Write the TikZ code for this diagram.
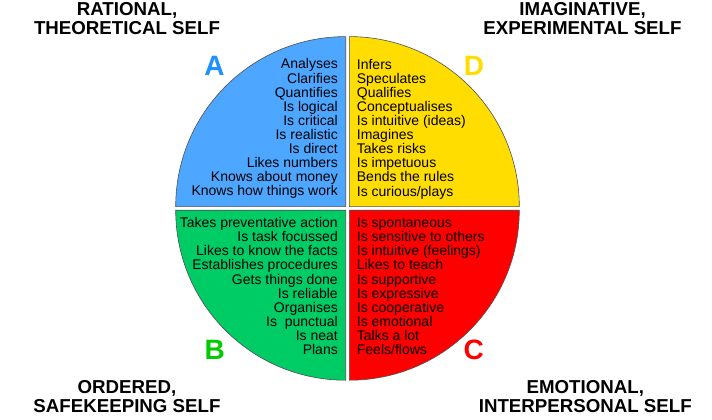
\documentclass[tikz,border=0pt]{standalone}
\usepackage{fontspec}
\setmainfont{Liberation Sans}
\definecolor{quadA}{RGB}{77,166,255}
\definecolor{quadD}{RGB}{255,221,0}
\definecolor{quadB}{RGB}{0,204,102}
\definecolor{quadC}{RGB}{255,0,0}
\definecolor{letA}{RGB}{30,144,255}
\definecolor{letD}{RGB}{255,221,0}
\definecolor{letB}{RGB}{0,204,0}
\definecolor{letC}{RGB}{255,0,0}
\definecolor{edgegray}{RGB}{80,80,80}
\begin{document}
\begin{tikzpicture}[x=1pt,y=-1pt,
  quad/.style={draw=edgegray,line width=0.6pt},
  items/.style={inner sep=0pt,font=\fontsize{14}{14.08}\selectfont},
  ttl/.style={inner sep=0pt,align=center,font=\fontsize{18.7}{19.3}\selectfont\bfseries},
  letter/.style={inner sep=0pt,anchor=base,font=\fontsize{28}{28}\selectfont\bfseries}]
\useasboundingbox[fill=white] (0,0) rectangle (712,420);
% quadrants
\coordinate (cA) at (345.7,206.6);
\coordinate (cD) at (349.3,206.6);
\coordinate (cC) at (349.3,210.2);
\coordinate (cB) at (345.7,210.2);
\path[quad,fill=quadA] (cA) -- ++(-170,0) arc[start angle=180,end angle=270,radius=170] -- cycle;
\path[quad,fill=quadD] (cD) -- ++(0,-170) arc[start angle=270,end angle=360,radius=170] -- cycle;
\path[quad,fill=quadC] (cC) -- ++(170,0) arc[start angle=0,end angle=90,radius=170] -- cycle;
\path[quad,fill=quadB] (cB) -- ++(0,170) arc[start angle=90,end angle=180,radius=170] -- cycle;
% item lists (base anchor = last line baseline)
\node[items,align=right,anchor=base east] (listA) at (338,195.7)
  {Analyses\\Clarifies\\Quantifies\\Is logical\\Is critical\\Is realistic\\Is direct\\Likes numbers\\Knows about money\\Knows how things work};
\node[items,align=left,anchor=base west] (listD) at (356.7,196)
  {Infers\\Speculates\\Qualifies\\Conceptualises\\Is intuitive (ideas)\\Imagines\\Takes risks\\Is impetuous\\Bends the rules\\Is curious/plays};
\node[items,align=right,anchor=base east] (listB) at (338,354.4)
  {Takes preventative action\\Is task focussed\\Likes to know the facts\\Establishes procedures\\Gets things done\\Is reliable\\Organises\\Is\ \ punctual\\Is neat\\Plans};
\node[items,align=left,anchor=base west] (listC) at (356.7,354.4)
  {Is spontaneous\\Is sensitive to others\\Is intuitive (feelings)\\Likes to teach\\Is supportive\\Is expressive\\Is cooperative\\Is emotional\\Talks a lot\\Feels/flows};
% letters
\node[letter,text=letA] (letterA) at (214.5,75) {A};
\node[letter,text=letD] (letterD) at (474,75) {D};
\node[letter,text=letB] (letterB) at (214.7,359.3) {B};
\node[letter,text=letC] (letterC) at (473.8,359.5) {C};
% titles (base anchor = last line baseline)
\node[ttl,anchor=base] (titleA) at (127,34.7) {RATIONAL,\\THEORETICAL SELF};
\node[ttl,anchor=base] (titleD) at (582.5,34.7) {IMAGINATIVE,\\EXPERIMENTAL SELF};
\node[ttl,anchor=base] (titleB) at (127,412.7) {ORDERED,\\SAFEKEEPING SELF};
\node[ttl,anchor=base] (titleC) at (585.3,412.7) {EMOTIONAL,\\INTERPERSONAL SELF};
\end{tikzpicture}
\end{document}
